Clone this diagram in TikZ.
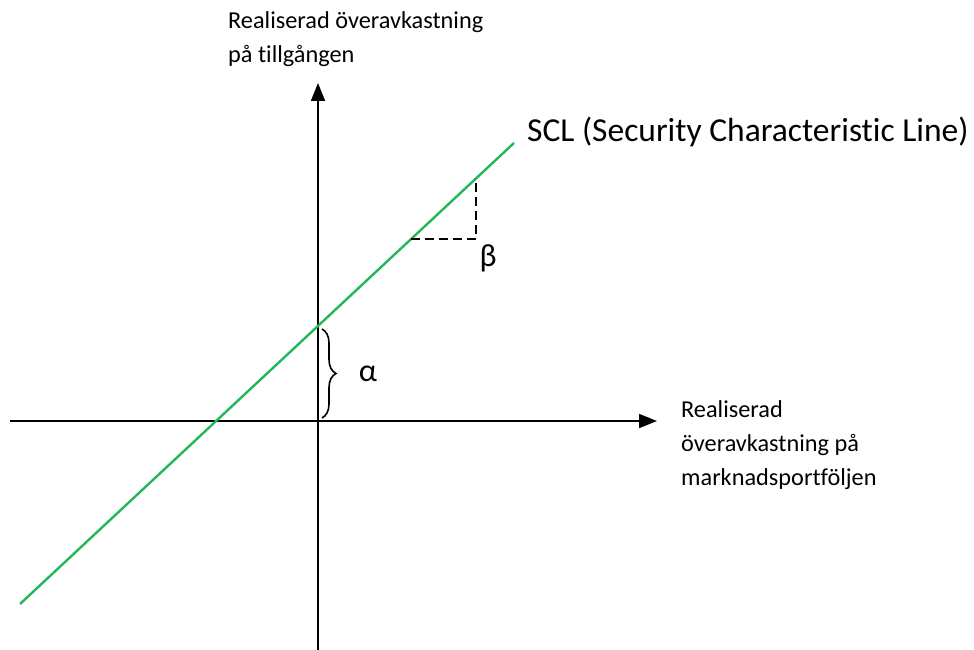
\documentclass[tikz,border=0pt]{standalone}
\usepackage{fontspec}
\setmainfont{Carlito}[Ligatures=NoCommon]
\usetikzlibrary{arrows.meta,decorations.pathreplacing}
\definecolor{sclgreen}{RGB}{35,182,92}
\begin{document}
\begin{tikzpicture}[x=1pt,y=-1pt,
  axis/.style={line width=1.8pt,-{Triangle[length=18pt,width=14pt]}},
  scl/.style={sclgreen,line width=2.4pt},
  dashline/.style={line width=2.1pt,dash pattern=on 9pt off 5pt},
  lbl/.style={font=\fontsize{24.3}{34}\selectfont,align=left,inner sep=0pt},
  greek/.style={font=\fontsize{32}{36}\selectfont,inner sep=0pt}]
\useasboundingbox (0,0) rectangle (974,650);
\coordinate (ybot) at (318,650);
\coordinate (ytop) at (318,83);
\coordinate (xleft) at (10,421);
\coordinate (xright) at (657,421);
\coordinate (s0) at (20,604);
\coordinate (s1) at (514,143);
\coordinate (o) at (318,421);
\coordinate (a) at (318,328);
\coordinate (b0) at (411,239);
\coordinate (b1) at (476,239);
\coordinate (b2) at (476,178);
\draw[axis] (ybot) -- (ytop);
\draw[axis] (xleft) -- (xright);
\draw[scl] (s0) -- (s1);
\draw[dashline] (b0) -- (b1) -- (b2);
\draw[line width=1.6pt,decorate,decoration={brace,amplitude=14pt}] (322,329) -- (322,418);
\node[greek,anchor=center] (alpha) at (368,374) {α};
\node[greek,anchor=center] (beta) at (488,258) {β};
\node[lbl,anchor=base west] (ylab) at (228,63) {Realiserad överavkastning\\på tillgången};
\node[lbl,anchor=base west] (xlab) at (681,485) {Realiserad\\överavkastning på\\marknadsportföljen};
\node[font=\fontsize{33.5}{38}\selectfont,inner sep=0pt,anchor=base west] (scllab) at (527,142) {SCL (Security Characteristic Line)};
\end{tikzpicture}
\end{document}
